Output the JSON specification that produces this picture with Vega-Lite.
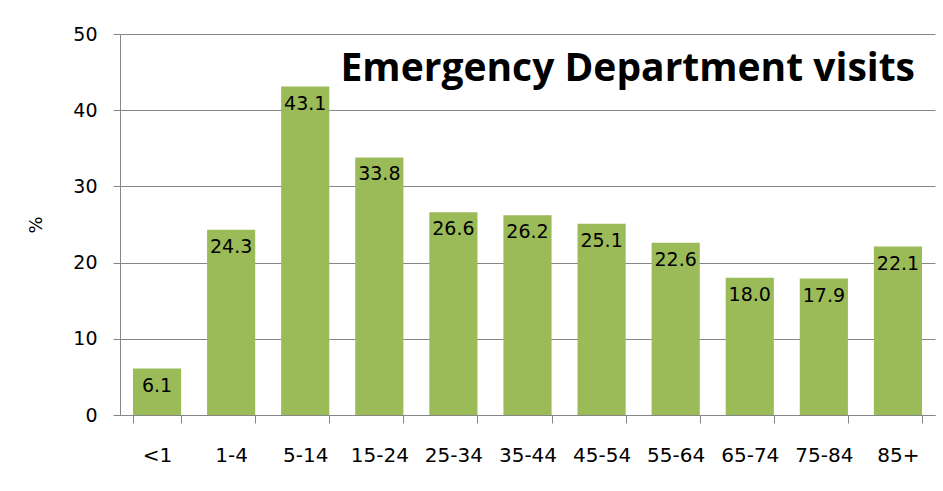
{
  "$schema": "https://vega.github.io/schema/vega-lite/v6.json",
  "width": 815,
  "height": 381,
  "autosize": {"type": "none"},
  "padding": {"left": 120, "top": 34, "right": 8, "bottom": 76},
  "background": "white",
  "config": {"view": {"stroke": null}},
  "title": {
    "text": "Emergency Department visits",
    "anchor": "end",
    "orient": "top",
    "frame": "group",
    "font": "Open Sans",
    "fontWeight": "bold",
    "fontSize": 39,
    "color": "#000000",
    "baseline": "alphabetic",
    "offset": 0,
    "dx": -20,
    "dy": 95
  },
  "data": {
    "values": [
      {"age": "<1", "pct": 6.1},
      {"age": "1-4", "pct": 24.3},
      {"age": "5-14", "pct": 43.1},
      {"age": "15-24", "pct": 33.8},
      {"age": "25-34", "pct": 26.6},
      {"age": "35-44", "pct": 26.2},
      {"age": "45-54", "pct": 25.1},
      {"age": "55-64", "pct": 22.6},
      {"age": "65-74", "pct": 18.0},
      {"age": "75-84", "pct": 17.9},
      {"age": "85+", "pct": 22.1}
    ]
  },
  "encoding": {
    "x": {
      "field": "age",
      "type": "nominal",
      "sort": null,
      "scale": {"paddingInner": 0.35, "paddingOuter": 0.175},
      "axis": {
        "title": null,
        "labelAngle": 0,
        "labelFont": "DejaVu Sans",
        "labelFontSize": 20,
        "labelColor": "#000000",
        "labelPadding": 22,
        "domainColor": "#868686",
        "tickColor": "#868686",
        "tickSize": 8,
        "tickBand": "extent",
        "grid": false
      }
    },
    "y": {
      "field": "pct",
      "type": "quantitative",
      "scale": {"domain": [0, 50], "nice": false},
      "axis": {
        "title": "%",
        "titleFont": "DejaVu Sans",
        "titleFontSize": 18,
        "titleFontWeight": "normal",
        "titleColor": "#000000",
        "titlePadding": 27,
        "values": [0, 10, 20, 30, 40, 50],
        "labelFont": "DejaVu Sans",
        "labelFontSize": 19,
        "labelColor": "#000000",
        "labelPadding": 16,
        "domainColor": "#868686",
        "tickColor": "#868686",
        "tickSize": 7,
        "gridColor": "#868686",
        "grid": true
      }
    }
  },
  "layer": [
    {"mark": {"type": "bar", "color": "#9BBB59"}},
    {
      "mark": {"type": "text", "baseline": "top", "dy": 8, "font": "DejaVu Sans", "fontSize": 19, "color": "#000000"},
      "encoding": {"text": {"field": "pct", "type": "quantitative", "format": ".1f"}}
    }
  ]
}
